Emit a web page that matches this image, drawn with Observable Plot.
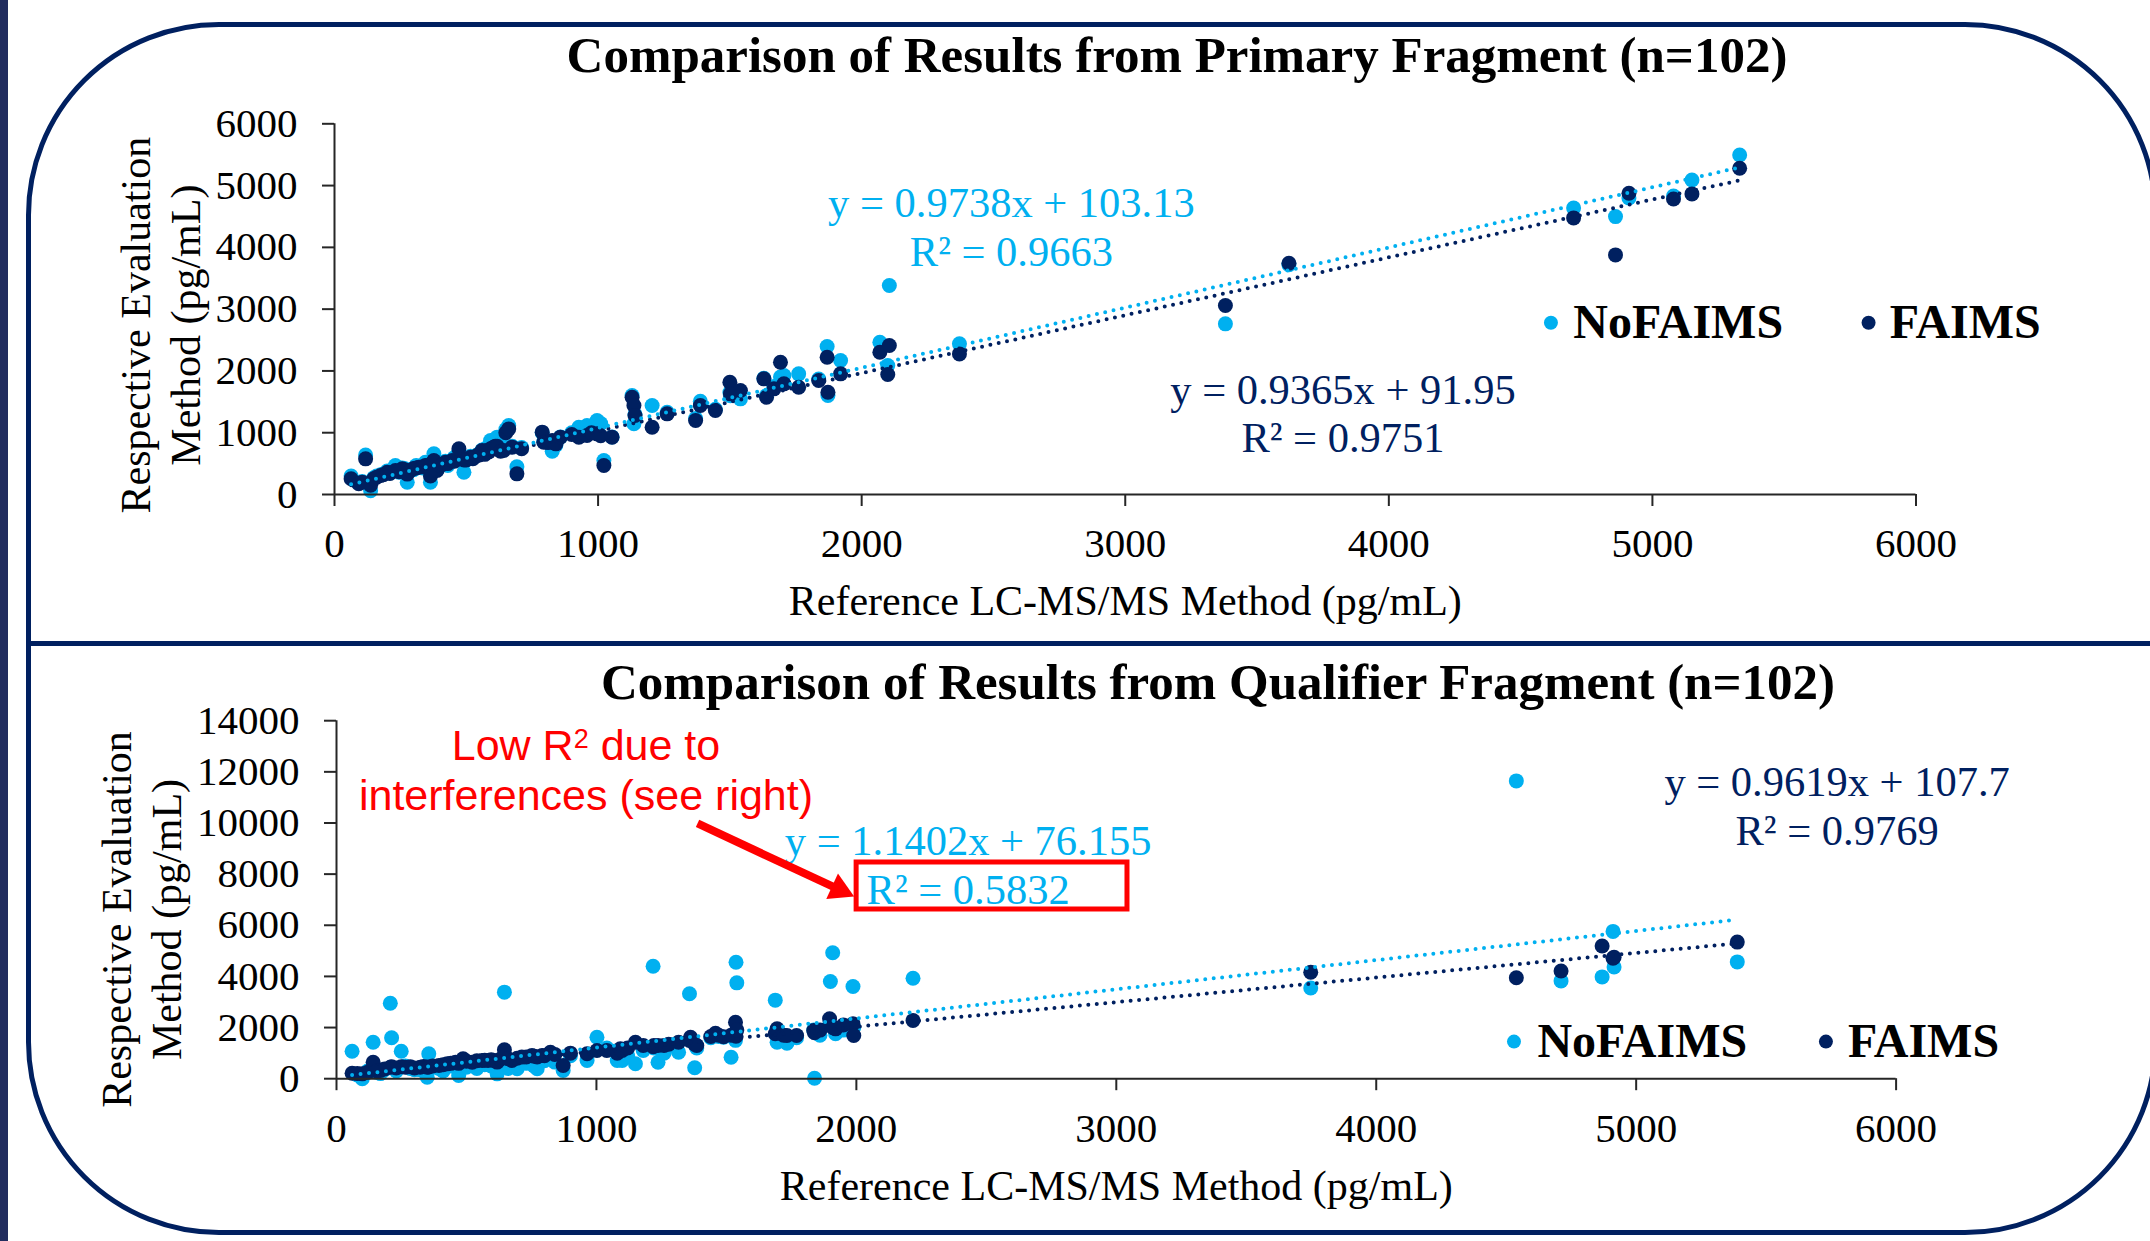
<!DOCTYPE html>
<html>
<head>
<meta charset="utf-8">
<script src="https://cdn.jsdelivr.net/npm/d3@7"></script>
<script src="https://cdn.jsdelivr.net/npm/@observablehq/plot@0.6"></script>
<style>
  html, body { margin: 0; padding: 0; background: #fff; }
  body { width: 2150px; height: 1241px; position: relative; overflow: hidden; font-family: "Liberation Serif", "Times New Roman", serif; }
  #strip { position: absolute; left: 0; top: 0; width: 8px; height: 1241px; background: #222d5f; }
  #frame { position: absolute; left: 26px; top: 22px; width: 2132px; height: 1213px; box-sizing: border-box;
           border: 5.5px solid #002060; border-radius: 193px; }
  #divider { position: absolute; left: 26px; top: 641px; width: 2130px; height: 5px; background: #002060; }
  .title { position: absolute; width: 1600px; text-align: center; font-family: "Liberation Serif", "Times New Roman", serif;
           font-weight: bold; font-size: 51px; line-height: 1; color: #000; white-space: nowrap; }
  .chart { position: absolute; left: 0; }
  .chart svg { overflow: visible; }
  #note { position: absolute; left: 286px; width: 600px; top: 720px; text-align: center;
          font-family: "Liberation Sans", Arial, sans-serif; font-size: 43px; line-height: 50px; color: #ff0000; white-space: nowrap; }
  #note .sup { font-size: 27px; line-height: 0; position: relative; top: -11.6px; }
</style>
</head>
<body>
<div id="strip"></div>
<div id="frame"></div>
<div id="divider"></div>
<div class="title" id="t1" style="left:377px; top:30px;">Comparison of Results from Primary Fragment (n=102)</div>
<div class="title" id="t2" style="left:418px; top:656.5px;">Comparison of Results from Qualifier Fragment (n=102)</div>
<div class="chart" id="c1" style="top:0px;"></div>
<div class="chart" id="c2" style="top:645px;"></div>
<div id="note">Low R<span class="sup">2</span> due to<br>interferences (see right)</div>
<script>
// ---------- Data: Primary fragment (reference x, NoFAIMS y, FAIMS y) ----------
const primaryRef = [63,92,105,118,137,149,160,175,185,200,210,231,245,257,265,276,288,300,310,320,335,345,352,364,377,389,400,410,421,430,446,455,472,491,500,516,525,541,550,560,570,579,585,592,598,604,610,617,630,642,650,661,674,692,710,788,794,810,826,840,857,900,927,958,975,996,1010,1022,1053,1129,1136,1140,1205,1262,1370,1388,1445,1500,1502,1540,1629,1639,1667,1692,1705,1761,1837,1869,1872,1920,2069,2099,2105,2371,3380,3621,4701,4860,4911,5080,5150,5331];
const primaryNoFAIMS = [300,190,210,640,60,270,300,320,330,380,350,470,360,430,420,199,400,400,470,440,430,520,470,199,658,400,480,500,540,470,560,600,700,361,560,620,590,640,660,720,700,760,760,874,820,800,850,928,900,730,1050,1116,780,450,760,1000,860,860,700,800,930,1000,1089,1116,1100,1197,1150,550,930,1602,1144,1300,1440,1330,1230,1510,1380,1650,1600,1548,1880,1600,1750,1900,1925,1953,1870,2395,1602,2168,2465,2087,3382,2438,2762,3720,4638,4498,4800,4830,5091,5496];
const primaryFAIMS = [254,173,200,577,150,254,280,307,320,361,340,388,370,415,400,330,388,420,430,442,450,470,469,300,550,388,470,490,523,500,550,540,739,560,560,604,580,631,640,712,650,712,690,740,740,766,780,780,700,712,1000,1062,766,334,740,1009,847,840,874,820,928,970,928,955,1000,982,950,469,928,1575,1440,1278,1089,1305,1197,1440,1359,1817,1629,1683,1872,1575,1710,2141,1791,1737,1845,2222,1656,1953,2303,1942,2411,2276,3058,3743,4477,3878,4875,4784,4865,5280];

// ---------- Data: Qualifier fragment ----------
const qualRef = [60,80,99,120,141,155,169,185,207,212,230,249,265,284,300,322,335,349,355,370,394,410,426,440,458,470,487,500,522,540,560,570,583,595,606,618,630,646,660,675,695,713,730,752,760,772,791,800,823,840,872,900,964,1002,1040,1080,1092,1099,1120,1150,1180,1218,1221,1237,1260,1278,1316,1358,1362,1378,1386,1440,1458,1489,1518,1535,1537,1540,1470,1688,1695,1720,1733,1770,1836,1839,1860,1897,1900,1909,1920,1950,1987,1990,2218,3748,4539,4711,4869,4911,4915,5389];
const qualNoFAIMS = [1075,150,0,300,1428,250,200,350,2953,1600,300,1075,500,400,350,350,400,60,973,450,400,300,500,500,550,125,650,450,550,400,600,550,650,500,700,190,650,3384,400,600,387,700,600,800,500,387,850,700,950,650,320,900,712,1623,1200,712,1050,712,900,582,1100,4400,1200,645,1000,1300,1037,3320,1500,426,1200,1600,1700,1623,841,1500,4556,3749,1650,3071,1428,1600,1390,1600,1900,20,1700,2100,3801,4923,1756,1900,3605,2000,3930,3547,11646,3824,3980,5760,4368,4568];
const qualFAIMS = [215,200,190,250,645,300,320,380,450,470,420,470,450,470,420,450,480,450,460,500,517,550,580,600,645,600,778,680,645,700,712,720,712,740,712,650,760,1130,780,712,800,845,850,912,880,850,912,900,1036,950,516,1000,973,1100,1100,1000,1168,1100,1200,1428,1300,1250,1298,1300,1300,1350,1428,1500,1623,1350,1298,1650,1780,1640,1700,2210,1660,1900,1700,1756,1950,1700,1690,1690,1886,1800,1900,2342,2100,2000,1950,2100,2147,1690,2276,4165,3950,4212,5189,4708,4750,5342];

// ---------- Tick labels, series names, fit equations ----------
const primaryXTicks = [0,1000,2000,3000,4000,5000,6000];
const primaryYTicks = [0,1000,2000,3000,4000,5000,6000];
const qualXTicks = [0,1000,2000,3000,4000,5000,6000];
const qualYTicks = [0,2000,4000,6000,8000,10000,12000,14000];
const seriesNames = ["NoFAIMS", "FAIMS"];
const primaryFits = [{slope: 0.9738, intercept: 103.13, r2: "0.9663"}, {slope: 0.9365, intercept: 91.95, r2: "0.9751"}];
const qualFits = [{slope: 1.1402, intercept: 76.155, r2: "0.5832"}, {slope: 0.9619, intercept: 107.7, r2: "0.9769"}];

// ---------- Styling ----------
const COLORS = ["#00B0F0", "#002060"];
const AXIS = "#262626";
const SERIF = "'Liberation Serif', 'Times New Roman', serif";

function fmtFit(f) {
  return `y = ${f.slope}x + ${f.intercept}\nR² = ${f.r2}`;
}

function buildChart(cfg) {
  const series = [cfg.no, cfg.f].map(ys => cfg.xs.map((x, i) => ({x, y: ys[i]})));
  const x0 = d3.min(cfg.xs), x1 = d3.max(cfg.xs);
  const trends = cfg.fits.map(f => [x0, x1].map(x => ({x, y: f.slope * x + f.intercept})));
  const marks = [
    Plot.dot(series[0], {x: "x", y: "y", r: 7.5, fill: COLORS[0]}),
    Plot.dot(series[1], {x: "x", y: "y", r: 7.5, fill: COLORS[1]}),
    Plot.line(trends[1], {x: "x", y: "y", stroke: COLORS[1], strokeWidth: 4, strokeDasharray: "0 8.5", strokeLinecap: "round"}),
    Plot.line(trends[0], {x: "x", y: "y", stroke: COLORS[0], strokeWidth: 4, strokeDasharray: "0 8.5", strokeLinecap: "round"}),
    Plot.ruleX([0], {stroke: AXIS, strokeWidth: 2}),
    Plot.ruleY([0], {stroke: AXIS, strokeWidth: 2}),
    Plot.axisX({ticks: cfg.xTicks, tickSize: 12, tickPadding: 21.7, tickFormat: d => String(d), label: null, stroke: AXIS, strokeWidth: 2, fontSize: 41}),
    Plot.axisY({ticks: cfg.yTicks, tickSize: 12, tickPadding: 25, tickFormat: d => String(d), label: null, stroke: AXIS, strokeWidth: 2, fontSize: 41}),
    Plot.text(["Reference LC-MS/MS Method (pg/mL)"], {text: d => d, frameAnchor: "bottom", dy: cfg.xLabelDy, fontSize: 42, lineAnchor: "middle", fill: "#000"}),
    Plot.text(["Respective Evaluation\nMethod (pg/mL)"], {text: d => d, frameAnchor: "left", rotate: -90, dx: cfg.yLabelDx, dy: cfg.yLabelDy, fontSize: 42, lineHeight: 1.2, textAnchor: "middle", lineAnchor: "middle", fill: "#000"}),
    // fit equations
    ...cfg.fits.map((f, i) => Plot.text([cfg.eqPos[i]], {x: "x", y: "y", text: () => fmtFit(f), fill: COLORS[i], fontSize: 42.5, lineHeight: 1.15, textAnchor: "middle", lineAnchor: "middle"})),
    // legend
    Plot.dot(cfg.legend, {x: "x", y: "y", r: 7, fill: (d, i) => COLORS[i]}),
    Plot.text(cfg.legend, {x: "tx", y: "y", text: (d, i) => seriesNames[i], fontSize: 48, fontWeight: "bold", textAnchor: "start", lineAnchor: "middle", fill: "#000"}),
    ...(cfg.extra || [])
  ];
  return Plot.plot({
    width: 2150, height: cfg.height,
    marginLeft: cfg.ml, marginRight: cfg.mr, marginTop: cfg.mt, marginBottom: cfg.mb,
    x: {domain: [0, 6000]},
    y: {domain: cfg.yDomain},
    style: {fontFamily: SERIF, fontSize: "41px", color: "#000", background: "transparent", overflow: "visible"},
    marks
  });
}

// annotation placement (data units)
const primaryEqPos = [{x: 2568, y: 4350}, {x: 3826, y: 1330}];
const primaryLegend = [{x: 4615, tx: 4700, y: 2780}, {x: 5820, tx: 5900, y: 2780}];
const qualEqPos = [{x: 2430, y: 8400}, {x: 5773, y: 10720}];
const qualLegend = [{x: 4530, tx: 4620, y: 1450}, {x: 5730, tx: 5815, y: 1450}];
const redBox = [{x1: 2001, x2: 3043, y1: 6617, y2: 8455}];
const redArrow = [{x1: 1389, y1: 9980, x2: 1935, y2: 7391}];

document.getElementById("c1").append(buildChart({
  xs: primaryRef, no: primaryNoFAIMS, f: primaryFAIMS, fits: primaryFits,
  xTicks: primaryXTicks, yTicks: primaryYTicks, yDomain: [0, 6000],
  height: 640, ml: 334, mr: 234.5, mt: 123.3, mb: 146,
  xLabelDy: 107, yLabelDx: -175.4, yLabelDy: 16,
  eqPos: primaryEqPos, legend: primaryLegend
}));

document.getElementById("c2").append(buildChart({
  xs: qualRef, no: qualNoFAIMS, f: qualFAIMS, fits: qualFits,
  xTicks: qualXTicks, yTicks: qualYTicks, yDomain: [0, 14000],
  height: 596, ml: 336, mr: 254.4, mt: 75.2, mb: 162.8,
  xLabelDy: 108, yLabelDx: -196.4, yLabelDy: 19.8,
  eqPos: qualEqPos, legend: qualLegend,
  extra: [
    Plot.rect(redBox, {x1: "x1", x2: "x2", y1: "y1", y2: "y2", fill: "none", stroke: "#ff0000", strokeWidth: 5}),
    Plot.link(redArrow, {x1: "x1", y1: "y1", x2: "x2", y2: "y2", stroke: "#ff0000", strokeWidth: 8}),
    Plot.dot(redArrow, {x: "x2", y: "y2", symbol: "triangle", r: 10.4, fill: "#ff0000", stroke: "none", rotate: 114.7})
  ]
}));
</script>
</body>
</html>
